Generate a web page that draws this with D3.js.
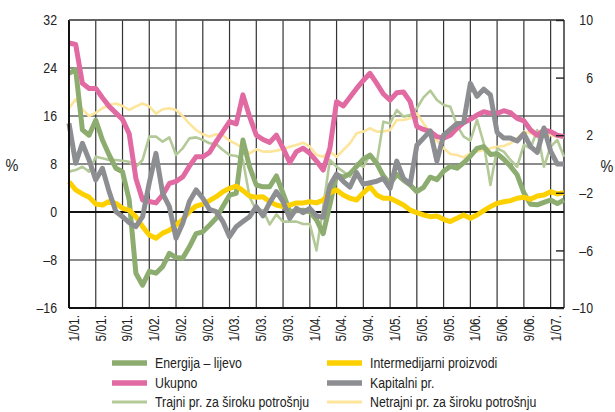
<!DOCTYPE html>
<html>
<head>
<meta charset="utf-8">
<script src="https://cdn.jsdelivr.net/npm/d3@7"></script>
<style>
  body { margin: 0; background: #fff; }
  svg { display: block; }
  text { font-family: "Liberation Sans", Arial, sans-serif; fill: #222; }
</style>
</head>
<body>
<svg id="chart" width="615" height="412"></svg>
<script>
// months from 1/01. to 3/07., one value per month
var xLabels = ["1/01.", "5/01.", "9/01.", "1/02.", "5/02.", "9/02.", "1/03.", "5/03.", "9/03.",
  "1/04.", "5/04.", "9/04.", "1/05.", "5/05.", "9/05.", "1/06.", "5/06.", "9/06.", "1/07."];
var leftTicks = [32, 24, 16, 8, 0, -8, -16];
var rightTicks = [10, 6, 2, -2, -6, -10];

// left axis
var energija = [23.1, 23.7, 13.7, 12.8, 15.3, 12.0, 9.5, 7.3, 6.7, 2.0, -10.2, -12.2, -9.9, -10.2, -9.1, -6.9, -7.6, -7.7, -5.8,
  -3.6, -3.3, -2.2, -1.05, 0.9, 2.8, 3.1, 12.0, 7.5, 4.5, 4.2, 4.2, 6.0, 3.1, 0.05, 0.2, 0.3, 0.05, -1.3,
  -3.6, 1.2, 6.2, 5.8, 6.4, 7.6, 8.8, 9.5, 8.1, 6.0, 4.7, 6.3, 5.3, 4.5, 3.4, 4.1, 5.8, 5.4, 6.8,
  7.6, 7.3, 8.2, 9.3, 10.6, 10.9, 9.6, 9.7, 8.8, 7.6, 6.2, 3.2, 1.3, 1.2, 1.6, 2.0, 1.4, 2.0];

// right axis
var ukupno = [8.4, 8.3, 5.6, 5.25, 5.25, 4.6, 4.0, 3.55, 3.1, 2.1, -1.0, -2.5, -2.6, -2.7, -2.15, -1.35, -1.2, -0.9, -0.15,
  0.5, 0.5, 0.8, 1.55, 2.25, 2.94, 2.78, 4.8, 3.29, 2.0, 1.7, 1.5, 2.0, 1.1, 0.1, 0.86, 1.1, 0.74, 0.2,
  -0.42, 1.1, 4.33, 4.03, 4.63, 5.25, 5.8, 6.3, 5.6, 4.86, 4.44, 4.95, 5.0, 4.33, 2.6, 2.4, 2.25, 1.9, 1.8,
  2.0, 2.48, 2.87, 3.1, 3.4, 3.63, 3.52, 3.52, 3.7, 3.56, 3.17, 3.0, 2.36, 2.0, 2.36, 2.25, 2.0, 1.9];

var trajni = [-0.53, -0.42, -0.19, -0.53, 0.51, 0.4, 0.28, 0.28, 0.23, 0.16, -0.19, 0.28, 1.9, 1.9, 1.55, 1.85, 0.63, 1.09, 1.78,
  1.85, 1.67, 1.44, 1.39, 0.97, 0.63, 0.56, 0.28, -2.3, -3.2, -3.2, -4.2, -3.5, -4.0, -4.0, -4.0, -4.17, -4.17, -6.0,
  -3.0, 0.28, -0.19, -0.53, -0.88, 0.05, -0.19, 0.63, 0.05, 2.94, 2.82, 3.75, 3.29, 3.4, 3.87, 4.63, 5.1, 4.44, 4.1,
  3.98, 2.7, 1.9, 1.62, 3.06, 1.44, -1.46, 1.09, 0.86, 0.28, -0.19, 1.32, 1.09, 2.36, -0.19, 1.2, 1.67, 0.51];

var intermedijarni = [-1.23, -1.8, -2.08, -2.3, -2.78, -2.85, -2.6, -2.73, -3.08, -3.2, -3.66, -4.35, -4.93, -5.16, -4.8, -4.6, -4.24, -3.84, -3.3,
  -2.92, -2.78, -2.55, -2.27, -1.92, -1.69, -1.53, -1.85, -2.22, -2.31, -2.27, -2.62, -2.85, -2.96, -2.85, -2.7, -2.7, -2.62, -2.7,
  -2.5, -2.0, -1.8, -2.15, -2.38, -2.5, -2.0, -1.58, -2.15, -2.38, -2.38, -2.6, -2.85, -3.2, -3.38, -3.54, -3.66, -3.61, -3.84,
  -4.0, -3.77, -3.54, -3.77, -3.54, -3.24, -2.96, -2.73, -2.62, -2.55, -2.38, -2.31, -2.45, -2.22, -2.15, -1.92, -2.08, -1.99];

var kapitalni = [2.82, 0.05, 1.44, 0.28, -1.1, -0.3, -1.92, -3.3, -3.66, -4.07, -4.35, -3.66, -1.3, 0.74, -2.04, -2.96, -5.16, -4.12, -2.6,
  -1.8, -2.38, -3.15, -3.3, -4.0, -5.05, -4.35, -4.0, -3.66, -2.96, -3.6, -2.69, -1.92, -2.62, -3.77, -3.08, -3.38, -3.08, -3.6,
  -3.7, -1.5, -0.7, -1.2, -1.6, -0.6, -1.4, -1.3, -1.2, -1.0, -1.7, 0.2, -1.0, -1.4, 1.3, 1.8, 2.3, 0.2, 2.0,
  2.4, 2.8, 2.9, 5.6, 4.7, 5.2, 4.8, 2.2, 1.8, 1.8, 1.6, 2.1, 1.2, 0.8, 2.5, 0.9, 0.0, 0.0];

var netrajni = [3.87, 4.5, 3.8, 3.33, 3.56, 3.87, 4.1, 4.2, 4.03, 3.75, 4.0, 4.2, 4.0, 3.5, 3.8, 3.87, 3.75, 3.33, 2.8,
  2.36, 2.06, 1.9, 2.06, 2.0, 1.62, 1.39, 1.09, 0.74, 1.02, 0.86, 0.86, 0.93, 1.02, 1.2, 1.32, 1.48, 1.2, 0.63,
  0.5, 0.86, 0.5, 0.97, 1.44, 2.13, 2.25, 2.48, 2.25, 2.25, 2.36, 3.06, 3.06, 3.17, 3.52, 2.82, 2.18, 1.62, 1.1,
  0.7, 0.63, 0.46, 0.74, 0.86, 0.97, 1.09, 1.2, 1.25, 1.44, 1.78, 2.25, 2.13, 2.0, 2.0, 2.0, 1.9, 1.85];

var series = [
  {name: "Netrajni pr. za široku potrošnju", values: netrajni, axis: "right", color: "#fde59b", width: 2.6},
  {name: "Trajni pr. za široku potrošnju", values: trajni, axis: "right", color: "#b3ca98", width: 2.6},
  {name: "Energija – lijevo", values: energija, axis: "left", color: "#8dac6f", width: 5},
  {name: "Ukupno", values: ukupno, axis: "right", color: "#e06aa1", width: 5},
  {name: "Intermedijarni proizvodi", values: intermedijarni, axis: "right", color: "#fdd000", width: 5},
  {name: "Kapitalni pr.", values: kapitalni, axis: "right", color: "#8d8e92", width: 5}
];

// legend layout: left column then right column
var legendOrder = [
  ["Energija – lijevo", "Ukupno", "Trajni pr. za široku potrošnju"],
  ["Intermedijarni proizvodi", "Kapitalni pr.", "Netrajni pr. za široku potrošnju"]
];

var NARROW = 0.85; // condensed look of the original typeface

var svg = d3.select("#chart"),
  margin = {top: 20, right: 51, bottom: 104, left: 69},
  width = +svg.attr("width") - margin.left - margin.right,
  height = +svg.attr("height") - margin.top - margin.bottom;

var x = d3.scaleLinear().domain([0, energija.length - 1]).range([0, width]),
  yL = d3.scaleLinear().domain([-16, 32]).range([height, 0]),
  yR = d3.scaleLinear().domain([-10, 10]).range([height, 0]);

var fmt = function(d) { return d < 0 ? "\u2013" + Math.abs(d) : "" + d; };

var g = svg.append("g")
  .attr("transform", "translate(" + margin.left + "," + margin.top + ")");

// horizontal grid
g.append("g").selectAll("line")
  .data(leftTicks.filter(function(d) { return d !== 0 && d !== -16; }))
  .enter().append("line")
  .attr("x1", 0).attr("x2", width)
  .attr("y1", function(d) { return yL(d); })
  .attr("y2", function(d) { return yL(d); })
  .attr("stroke", "#666")
  .attr("stroke-width", 1.6);

// vertical grid every 4 months
var gridMonths = xLabels.map(function(d, i) { return i * 4; });
g.append("g").selectAll("line")
  .data(gridMonths.slice(1))
  .enter().append("line")
  .attr("x1", function(d) { return x(d); })
  .attr("x2", function(d) { return x(d); })
  .attr("y1", 0).attr("y2", height)
  .attr("stroke", "#333")
  .attr("stroke-width", 1.2);

// frame right
g.append("line")
  .attr("x1", width).attr("x2", width).attr("y1", 0).attr("y2", height)
  .attr("stroke", "#333").attr("stroke-width", 1.5);

// zero line
g.append("line")
  .attr("x1", 0).attr("x2", width)
  .attr("y1", yL(0)).attr("y2", yL(0))
  .attr("stroke", "#111").attr("stroke-width", 1.8);

// lines
series.forEach(function(s) {
  var yScale = s.axis === "left" ? yL : yR;
  var line = d3.line()
    .x(function(d, i) { return x(i); })
    .y(function(d) { return yScale(d); });
  g.append("path")
    .datum(s.values)
    .attr("fill", "none")
    .attr("stroke", s.color)
    .attr("stroke-width", s.width)
    .attr("stroke-linejoin", "round")
    .attr("d", line);
});

// left, top and bottom lines
g.append("line")
  .attr("x1", 0).attr("x2", 0).attr("y1", 0).attr("y2", height)
  .attr("stroke", "#111").attr("stroke-width", 2);
g.append("line")
  .attr("x1", 0).attr("x2", width).attr("y1", 0).attr("y2", 0)
  .attr("stroke", "#555").attr("stroke-width", 1.5);
g.append("line")
  .attr("x1", 0).attr("x2", width).attr("y1", height).attr("y2", height)
  .attr("stroke", "#111").attr("stroke-width", 2);

// left axis labels
var yAxisL = d3.axisLeft(yL).tickValues(leftTicks).tickSize(0).tickPadding(12).tickFormat(fmt);
var gl = g.append("g").call(yAxisL);
gl.select(".domain").remove();
gl.selectAll("text")
  .attr("x", -12 / NARROW)
  .attr("transform", "scale(" + NARROW + ",1)")
  .style("font-size", "14.5px").style("font-family", null);

// right axis, inward ticks
var yAxisR = d3.axisRight(yR).tickValues(rightTicks).tickSizeInner(-8).tickSizeOuter(0).tickFormat(fmt);
var gr = g.append("g").attr("transform", "translate(" + width + ",0)").call(yAxisR);
gr.select(".domain").remove();
gr.selectAll(".tick line").attr("stroke", "#222").attr("stroke-width", 1.4);
gr.selectAll("text")
  .attr("x", 29 / NARROW)
  .attr("text-anchor", "end")
  .attr("transform", "scale(" + NARROW + ",1)")
  .style("font-size", "14.5px").style("font-family", null);

// percent signs
svg.append("text").attr("transform", "translate(12,165) scale(" + NARROW + ",1)").attr("dy", "0.35em")
  .attr("text-anchor", "middle").style("font-size", "17px").text("%");
svg.append("text").attr("transform", "translate(607,166) scale(" + NARROW + ",1)").attr("dy", "0.35em")
  .attr("text-anchor", "middle").style("font-size", "17px").text("%");

// month labels, rotated
g.append("g").selectAll("text")
  .data(xLabels)
  .enter().append("text")
  .attr("transform", function(d, i) {
    return "translate(" + (x(i * 4) + 5) + "," + (height + 7) + ") rotate(-90) scale(" + NARROW + ",1)";
  })
  .attr("text-anchor", "end")
  .attr("dy", "0.35em")
  .style("font-size", "14px")
  .text(function(d) { return d; });

// legend
var byName = {};
series.forEach(function(s) { byName[s.name] = s; });
var colX = [112, 327], rowY = [363, 383, 402];
legendOrder.forEach(function(col, c) {
  col.forEach(function(name, r) {
    var s = byName[name];
    var item = svg.append("g").attr("transform", "translate(" + colX[c] + "," + rowY[r] + ")");
    item.append("line")
      .attr("x1", 0).attr("x2", 35).attr("y1", 0).attr("y2", 0)
      .attr("stroke", s.color)
      .attr("stroke-width", s.width + 0.5);
    item.append("text")
      .attr("transform", "translate(43,0) scale(" + NARROW + ",1)")
      .attr("dy", "0.35em")
      .style("font-size", "14.5px")
      .text(name);
  });
});
</script>
</body>
</html>
